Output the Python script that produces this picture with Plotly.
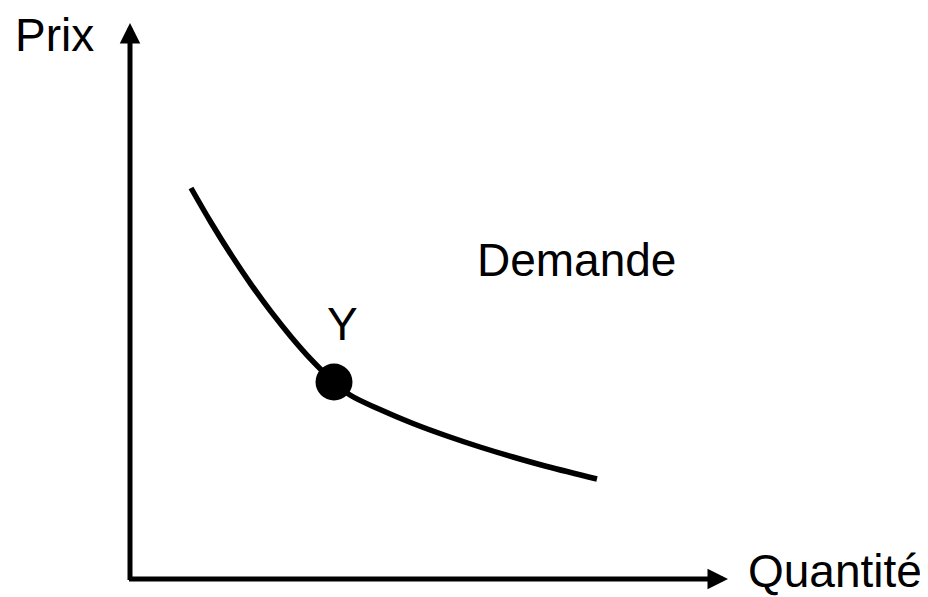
import plotly.graph_objects as go

# Demand curve (Quantité, Prix) in diagram units (origin at axes corner)
quantite = [61, 81, 101, 121, 141, 161, 181, 204, 220, 250, 283, 317, 350, 383, 417, 467]
prix = [391, 356.5, 324.4, 294.7, 267.3, 242.3, 219.6, 197, 184, 169.5, 155.5, 143, 132, 122, 112.5, 100]

# Point Y on the curve
point_q = [204]
point_p = [197]

# Axis extents (arrow tips)
x_axis_end = 598
y_axis_end = 556

FONT = "Liberation Sans, Arial, sans-serif"

fig = go.Figure()
fig.add_trace(go.Scatter(
    x=quantite, y=prix, mode="lines",
    line=dict(color="black", width=5.5, shape="spline", smoothing=1.0),
    hoverinfo="skip", showlegend=False,
))
fig.add_trace(go.Scatter(
    x=point_q, y=point_p, mode="markers",
    marker=dict(color="black", size=37, line=dict(width=0)),
    hoverinfo="skip", showlegend=False,
))

# Axes with arrows
for hx, hy, tx, ty in [(0, y_axis_end, 0, -2.5), (x_axis_end, 0, -2.5, 0)]:
    fig.add_annotation(x=hx, y=hy, ax=tx, ay=ty, xref="x", yref="y",
                       axref="x", ayref="y", text="", showarrow=True,
                       arrowhead=2, arrowsize=0.82, arrowwidth=5, arrowcolor="black",
                       standoff=0, startstandoff=0)

labels = [
    ("Prix", -76, 544),
    ("Quantité", 705, 8.5),
    ("Demande", 446.5, 319),
    ("Y", 212, 255),
]
for txt, lx, ly in labels:
    fig.add_annotation(x=lx, y=ly, xref="x", yref="y", text=txt, showarrow=False,
                       xanchor="center", yanchor="middle",
                       font=dict(family=FONT, size=46, color="black"))

# page has an 8px body margin: the figure spans page pixels 8..928 x 8..597
fig.update_xaxes(range=[-122, 798], visible=False, fixedrange=True)
fig.update_yaxes(range=[-18, 571], visible=False, fixedrange=True)
fig.update_layout(
    width=920, height=589,
    margin=dict(l=0, r=0, t=0, b=0),
    paper_bgcolor="white", plot_bgcolor="white",
    showlegend=False,
)
fig.write_html("out.html", config={"displayModeBar": False})
